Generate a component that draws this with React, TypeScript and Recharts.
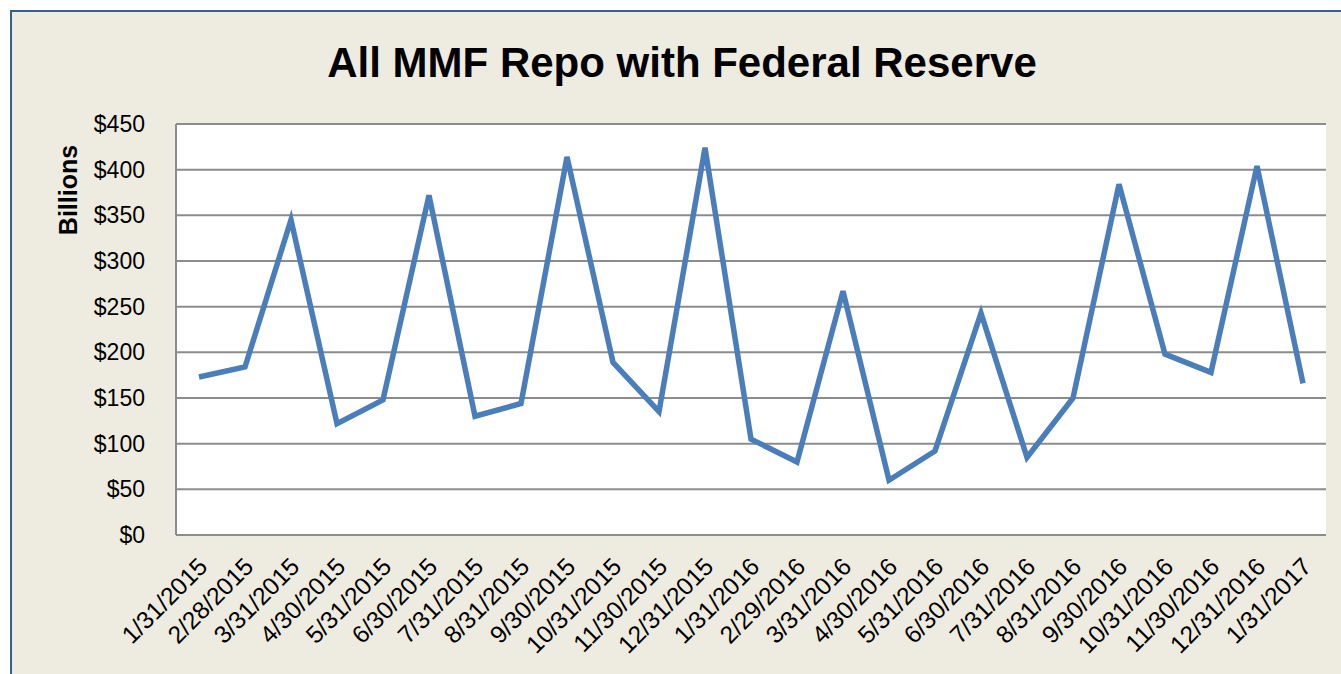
import React from "react";
import { LineChart, Line, XAxis, YAxis, CartesianGrid } from "recharts";

const dates = [
  "1/31/2015", "2/28/2015", "3/31/2015", "4/30/2015", "5/31/2015", "6/30/2015",
  "7/31/2015", "8/31/2015", "9/30/2015", "10/31/2015", "11/30/2015", "12/31/2015",
  "1/31/2016", "2/29/2016", "3/31/2016", "4/30/2016", "5/31/2016", "6/30/2016",
  "7/31/2016", "8/31/2016", "9/30/2016", "10/31/2016", "11/30/2016", "12/31/2016",
  "1/31/2017",
];

// billions of dollars
const repoValues = [
  173, 184, 345, 122, 148, 372, 130, 144, 414, 189, 135, 424,
  105, 80, 267, 60, 92, 243, 85, 150, 384, 198, 178, 404, 166,
];

const yTicks = [0, 50, 100, 150, 200, 250, 300, 350, 400, 450];

const FONT = "'Liberation Sans', Arial, sans-serif";
const BG = "#EEECE1";
const LINE_BLUE = "#4A7EBB";
const GRID = "#8C8C8C";

const chartData = dates.map((date, i) => ({ date, value: repoValues[i] }));

const DateTick = (props: any) => {
  const { x, y, payload } = props;
  const px = x + 10;
  const py = y + 33;
  return (
    <text
      x={px}
      y={py}
      textAnchor="end"
      transform={`rotate(-45, ${px}, ${py})`}
      fontFamily={FONT}
      fontSize={24.5}
      fill="#000"
    >
      {payload.value}
    </text>
  );
};

export default function App() {
  return (
    <div style={{ position: "absolute", left: 0, top: 0, width: 1341, height: 674, background: "#fff", overflow: "hidden" }}>
      <div
        style={{
          position: "absolute",
          left: 10,
          top: 10,
          width: 1340,
          height: 670,
          background: BG,
          borderLeft: "2px solid #3A5F8C",
          borderTop: "2px solid #3A5F8C",
        }}
      />
      <div style={{ position: "absolute", left: 0, top: 0 }}>
        <LineChart width={1341} height={674} data={chartData} margin={{ top: 124, right: 15, bottom: 0, left: 0 }}>
          <CartesianGrid vertical={false} stroke={GRID} strokeWidth={2} fill="#fff" />
          <XAxis
            dataKey="date"
            height={139}
            interval={0}
            padding={{ left: 23, right: 23 }}
            tickLine={false}
            tickSize={0}
            tickMargin={0}
            axisLine={{ stroke: GRID, strokeWidth: 2 }}
            tick={<DateTick />}
          />
          <YAxis
            width={176}
            domain={[0, 450]}
            ticks={yTicks}
            interval={0}
            tickLine={false}
            tickSize={0}
            tickMargin={31}
            axisLine={{ stroke: GRID, strokeWidth: 2 }}
            tickFormatter={(v: number) => `$${v}`}
            tick={{ fontFamily: FONT, fontSize: 23, fill: "#000" }}
          />
          <Line
            type="linear"
            dataKey="value"
            stroke={LINE_BLUE}
            strokeWidth={5.5}
            dot={false}
            isAnimationActive={false}
          />
        </LineChart>
      </div>
      <div
        style={{
          position: "absolute",
          left: 0,
          width: 1364,
          top: 42,
          textAlign: "center",
          fontFamily: FONT,
          fontWeight: "bold",
          fontSize: 42,
          lineHeight: "42px",
          color: "#000",
        }}
      >
        All MMF Repo with Federal Reserve
      </div>
      <div
        style={{
          position: "absolute",
          left: 68 - 80,
          top: 190 - 15,
          width: 160,
          height: 30,
          lineHeight: "30px",
          textAlign: "center",
          transform: "rotate(-90deg)",
          fontFamily: FONT,
          fontWeight: "bold",
          fontSize: 25,
          color: "#000",
        }}
      >
        Billions
      </div>
    </div>
  );
}
